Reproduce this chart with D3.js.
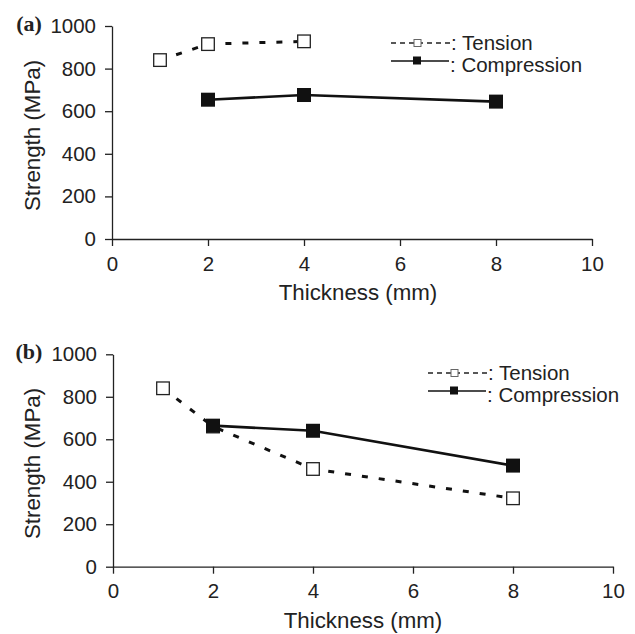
<!DOCTYPE html>
<html>
<head>
<meta charset="utf-8">
<script src="https://cdn.jsdelivr.net/npm/d3@7"></script>
<style>
  body { margin: 0; background: #fff; }
  svg text { font-family: "Liberation Sans", Arial, sans-serif; fill: #222; }
</style>
</head>
<body>
<svg id="chart" width="635" height="634"></svg>
<script>
// data
const xTicks = [0, 2, 4, 6, 8, 10];
const yTicks = [0, 200, 400, 600, 800, 1000];

const tensionAX = [1, 2, 4];
const tensionA = [840, 915, 928];
const compressionAX = [2, 4, 8];
const compressionA = [654, 676, 645];

const tensionBX = [1, 2, 4, 8];
const tensionB = [840, 660, 460, 322];
const compressionBX = [2, 4, 8];
const compressionB = [664, 640, 476];

const svg = d3.select("#chart");

function drawPanel(label, box, tx, ty, cx, cy, legendPos) {
  const g = svg.append("g");
  const x = d3.scaleLinear().domain([0, 10]).range([box.x0, box.x1]);
  const y = d3.scaleLinear().domain([0, 1000]).range([box.y0, box.y1]);

  // axes
  const ax = g.append("g")
    .attr("transform", "translate(0," + box.y0 + ")")
    .call(d3.axisBottom(x).tickValues(xTicks).tickFormat(d3.format("d"))
      .tickSize(7).tickPadding(10).tickSizeOuter(0));
  const ay = g.append("g")
    .attr("transform", "translate(" + box.x0 + ",0)")
    .call(d3.axisLeft(y).tickValues(yTicks).tickFormat(d3.format("d"))
      .tickSize(7).tickPadding(9).tickSizeOuter(0));
  [ax, ay].forEach(a => {
    a.select(".domain").attr("stroke", "#222").attr("stroke-width", 1.3);
    a.selectAll(".tick line").attr("stroke", "#222").attr("stroke-width", 1.3);
    a.selectAll(".tick text").attr("font-size", "20.5px").attr("fill", "#222");
  });

  // titles
  g.append("text")
    .attr("x", (box.x0 + box.x1) / 2 + box.titleShift)
    .attr("y", box.y0 + 61)
    .attr("text-anchor", "middle")
    .attr("font-size", "22.3px")
    .text("Thickness (mm)");
  g.append("text")
    .attr("transform", "translate(40," + ((box.y0 + box.y1) / 2 + 3) + ") rotate(-90)")
    .attr("text-anchor", "middle")
    .attr("font-size", "22.3px")
    .text("Strength (MPa)");
  g.append("text")
    .attr("x", 29)
    .attr("y", box.y1 + 5)
    .attr("text-anchor", "middle")
    .attr("font-size", "22px")
    .attr("font-weight", "bold")
    .style("font-family", "'Liberation Serif', 'Times New Roman', serif")
    .text(label);

  const line = d3.line().x(d => x(d[0])).y(d => y(d[1]));
  const tPts = tx.map((v, i) => [v, ty[i]]);
  const cPts = cx.map((v, i) => [v, cy[i]]);

  g.append("path").datum(tPts)
    .attr("d", line)
    .attr("fill", "none")
    .attr("stroke", "#111")
    .attr("stroke-width", 3)
    .attr("stroke-dasharray", "6,11");
  g.append("path").datum(cPts)
    .attr("d", line)
    .attr("fill", "none")
    .attr("stroke", "#111")
    .attr("stroke-width", 2.6);

  g.selectAll(".tmark").data(tPts).enter().append("rect")
    .attr("x", d => x(d[0]) - 6.3)
    .attr("y", d => y(d[1]) - 6.3)
    .attr("width", 12.6)
    .attr("height", 12.6)
    .attr("fill", "#fff")
    .attr("stroke", "#222")
    .attr("stroke-width", 1.3);
  g.selectAll(".cmark").data(cPts).enter().append("rect")
    .attr("x", d => x(d[0]) - 7)
    .attr("y", d => y(d[1]) - 7)
    .attr("width", 14)
    .attr("height", 14)
    .attr("fill", "#111");

  // legend
  const lg = g.append("g").attr("transform", "translate(" + legendPos[0] + "," + legendPos[1] + ")");
  lg.append("line")
    .attr("x1", 0).attr("x2", 60).attr("y1", 0).attr("y2", 0)
    .attr("stroke", "#222").attr("stroke-width", 1.5)
    .attr("stroke-dasharray", "5,4");
  lg.append("rect")
    .attr("x", 23).attr("y", -3.5).attr("width", 7).attr("height", 7)
    .attr("fill", "#fff").attr("stroke", "#666").attr("stroke-width", 1);
  lg.append("text").attr("x", 60).attr("y", 7).attr("font-size", "20.5px").text(": Tension");

  lg.append("line")
    .attr("x1", 0).attr("x2", 58).attr("y1", 18).attr("y2", 18)
    .attr("stroke", "#111").attr("stroke-width", 1.5);
  lg.append("rect")
    .attr("x", 22).attr("y", 13.5).attr("width", 8).attr("height", 8)
    .attr("fill", "#111");
  lg.append("text").attr("x", 59).attr("y", 29).attr("font-size", "20.5px").text(": Compression");
}

drawPanel("(a)", { x0: 112, x1: 592, y0: 239, y1: 26, titleShift: 6 },
  tensionAX, tensionA, compressionAX, compressionA, [391, 43]);
drawPanel("(b)", { x0: 113, x1: 613, y0: 566.7, y1: 354.3, titleShift: 0 },
  tensionBX, tensionB, compressionBX, compressionB, [428, 373]);
</script>
</body>
</html>
